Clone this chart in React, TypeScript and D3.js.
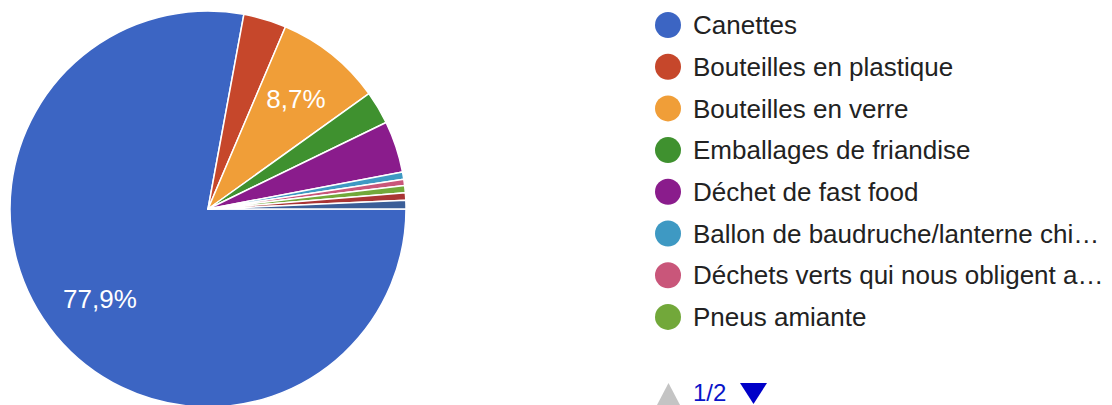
import React from "react";
import * as d3 from "d3";

// categories as they appear in the legend (page 1 of 2); the last two slices belong to page 2
const categories = [
  "Canettes",
  "Bouteilles en plastique",
  "Bouteilles en verre",
  "Emballages de friandise",
  "Déchet de fast food",
  "Ballon de baudruche/lanterne chi…",
  "Déchets verts qui nous obligent a…",
  "Pneus amiante",
  "Autre (page 2)",
  "Autre (page 2) ",
];
const values = [77.9, 3.5, 8.7, 2.7, 4.2, 0.6, 0.5, 0.6, 0.6, 0.7];
const colors = [
  "#3c65c3", "#c6472b", "#f09e38", "#3f912f", "#8a1c8c",
  "#3e99c3", "#c9567a", "#72a83a", "#a93434", "#3b5e98",
];
const pageLabel = "1/2";
const legendPageSize = 8;

const W = 1112;
const H = 405;

export default function App() {
  const cx = 208, cy = 209, R = 198;
  const total = d3.sum(values);
  const data = values.map((v, i) => ({ name: categories[i], value: v, color: colors[i] }));

  const pie = d3.pie<any>()
    .value(d => d.value)
    .sort(null)
    .startAngle(Math.PI / 2)
    .endAngle(Math.PI / 2 + Math.PI * 2);
  const arcs = pie(data);
  const arc = d3.arc<any>().innerRadius(0).outerRadius(R);
  const labelArc = d3.arc<any>().innerRadius(R * 0.71).outerRadius(R * 0.71);
  const fmt = (v: number) => d3.format(".1f")((v / total) * 100).replace(".", ",") + "%";

  const legendY = d3.scaleLinear().domain([0, 1]).range([25, 66.7]);
  const legendItems = data.slice(0, legendPageSize);

  return (
    <svg width={W} height={H} style={{ position: "absolute", left: 0, top: 0 }}
      fontFamily="'Liberation Sans', Arial, sans-serif">
      <g transform={`translate(${cx},${cy})`}>
        {arcs.map((a, i) => (
          <path key={i} d={arc(a) as string} fill={a.data.color} stroke="#fff" strokeWidth={1.5} strokeLinejoin="round" />
        ))}
        {arcs.filter(a => a.data.value / total >= 0.05).map((a, i) => {
          const [x, y] = labelArc.centroid(a);
          return (
            <text key={i} x={x} y={y} dy="0.35em" textAnchor="middle" fill="#fff" fontSize={26}>
              {fmt(a.data.value)}
            </text>
          );
        })}
      </g>
      <g>
        {legendItems.map((d, i) => (
          <g key={i} transform={`translate(0,${legendY(i)})`}>
            <circle cx={668} cy={0} r={13} fill={d.color} />
            <text x={693} y={0} dy="0.35em" fontSize={26} fill="#222">{d.name}</text>
          </g>
        ))}
      </g>
      <g transform="translate(0,394)">
        <path d="M657,11 L668.5,-11 L680,11 Z" fill="#c4c4c4" />
        <text x={693} y={6.5} fontSize={24} fill="#0a14c8">{pageLabel}</text>
        <path d="M740,-11 L767,-11 L753.5,10 Z" fill="#0000c8" />
      </g>
    </svg>
  );
}
